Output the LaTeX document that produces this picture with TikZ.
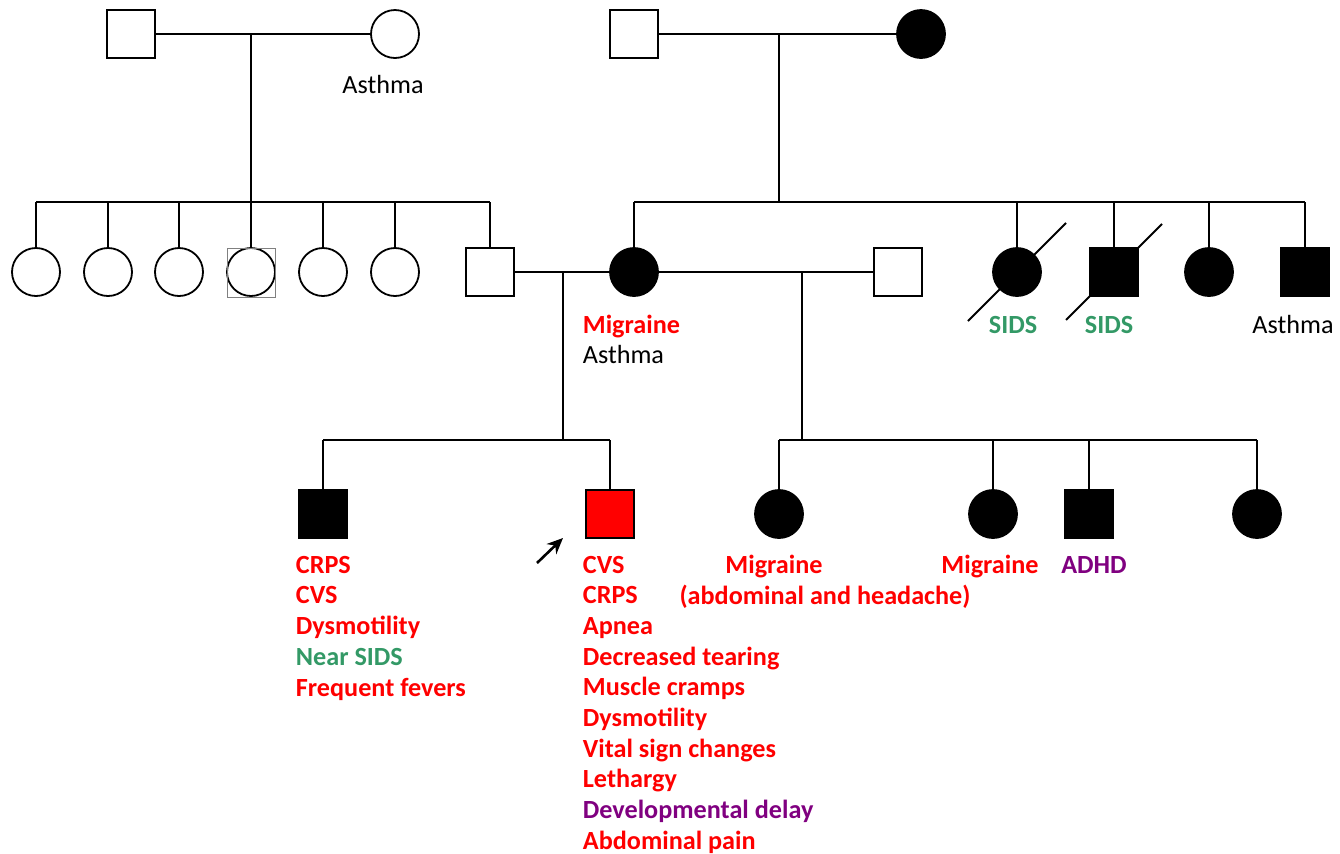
\documentclass[tikz,border=0pt]{standalone}
\usepackage{fontspec}
\setmainfont{Carlito}
\usepackage{xcolor}
\usetikzlibrary{arrows.meta}
\definecolor{PedRed}{RGB}{255,0,0}
\definecolor{PedGreen}{RGB}{51,153,102}
\definecolor{PedPurple}{RGB}{128,0,128}

\begin{document}
\begin{tikzpicture}[x=0.5pt, y=-0.5pt, line width=0.9pt,
    male/.style={draw, rectangle, minimum size=24pt, inner sep=0pt},
    female/.style={draw, circle, minimum size=24pt, inner sep=0pt},
    affected/.style={fill=black},
    lbl/.style={inner sep=0pt, font=\fontsize{13.1}{15}\selectfont\bfseries},
    plain/.style={inner sep=0pt, font=\fontsize{13.1}{15}\selectfont}]
    \useasboundingbox (0,0) rectangle (1340,853);

    % grandparents
    \node (GrandpaL) [male] at (131,34) {};
    \node (GrandmaL) [female] at (395,34) {};
    \node (GrandpaR) [male] at (634,34) {};
    \node (GrandmaR) [female, affected] at (921,34) {};
    \node (GrandmaLAsthma) [plain, anchor=base] at (383,93) {Asthma};

    \coordinate (MarriageL) at (251,34);
    \coordinate (SibsL) at (251,202);
    \coordinate (MarriageR) at (779,34);
    \coordinate (SibsR) at (779,202);
    \draw (GrandpaL) -- (GrandmaL);
    \draw (GrandpaR) -- (GrandmaR);
    \draw (MarriageL) -- (SibsL);
    \draw (MarriageR) -- (SibsR);

    % father's side
    \foreach \x [count=\i] in {36,108,179,251,323,395}
        \node (Aunt\i) [female] at (\x,272) {};
    \node (Father) [male] at (490,272) {};
    \draw[gray, line width=0.4pt] (227,248) rectangle (275,297);
    \draw (Aunt1 |- SibsL) -- (Father |- SibsL);
    \foreach \n in {Aunt1,Aunt2,Aunt3,Aunt4,Aunt5,Aunt6,Father}
        \draw (\n.north) -- (\n |- SibsL);

    % mother's side
    \node (Mother) [female, affected] at (634,272) {};
    \node (Stepfather) [male] at (898,272) {};
    \node (AuntSids) [female, affected] at (1017,272) {};
    \node (UncleSids) [male, affected] at (1114,272) {};
    \node (AuntR) [female, affected] at (1209,272) {};
    \node (UncleR) [male, affected] at (1305,272) {};
    \draw (Mother |- SibsR) -- (UncleR |- SibsR);
    \foreach \n in {Mother,AuntSids,UncleSids,AuntR,UncleR}
        \draw (\n.north) -- (\n |- SibsR);
    \draw ([shift={(-49,49)}]AuntSids.center) -- ([shift={(49,-49)}]AuntSids.center);
    \draw ([shift={(-48,48)}]UncleSids.center) -- ([shift={(48,-48)}]UncleSids.center);

    \node (MotherMig) [lbl, text=PedRed, anchor=base west] at (582,333) {Migraine};
    \node (MotherAsthma) [plain, anchor=base west] at (582,363) {Asthma};
    \node (AuntSidsTxt) [lbl, text=PedGreen, anchor=base] at (1013,333) {SIDS};
    \node (UncleSidsTxt) [lbl, text=PedGreen, anchor=base] at (1109,333) {SIDS};
    \node (UncleRTxt) [plain, anchor=base] at (1293,333) {Asthma};

    % parents and children
    \coordinate (MarriageP) at (563,272);
    \coordinate (SibsP) at (563,440);
    \coordinate (MarriageS) at (802,272);
    \coordinate (SibsS) at (802,440);
    \draw (Father) -- (Mother);
    \draw (Mother) -- (Stepfather);
    \draw (MarriageP) -- (SibsP);
    \draw (MarriageS) -- (SibsS);

    \node (Brother) [male, affected] at (323,514) {};
    \node (Proband) [male, fill=PedRed] at (610,514) {};
    \node (HalfSis1) [female, affected] at (779,514) {};
    \node (HalfSis2) [female, affected] at (993,514) {};
    \node (HalfBro) [male, affected] at (1089,514) {};
    \node (HalfSis3) [female, affected] at (1257,514) {};
    \draw (Brother |- SibsP) -- (Proband |- SibsP);
    \draw (HalfSis1 |- SibsS) -- (HalfSis3 |- SibsS);
    \foreach \n in {Brother,Proband}
        \draw (\n.north) -- (\n |- SibsP);
    \foreach \n in {HalfSis1,HalfSis2,HalfBro,HalfSis3}
        \draw (\n.north) -- (\n |- SibsS);

    % proband arrow
    \coordinate (ArrowTail) at (537,563);
    \coordinate (ArrowHead) at (563,538);
    \draw[line width=1.3pt, -{Stealth[length=8pt, width=7pt]}] (ArrowTail) -- (ArrowHead);

    % symptoms
    \foreach \txt/\col [count=\i] in {CRPS/PedRed, CVS/PedRed, Dysmotility/PedRed,
        Near SIDS/PedGreen, Frequent fevers/PedRed}
        \node (BroTxt\i) [lbl, text=\col, anchor=base west] at (295,573+30.75*\i-30.75) {\txt};
    \foreach \txt/\col [count=\i] in {CVS/PedRed, CRPS/PedRed, Apnea/PedRed,
        Decreased tearing/PedRed, Muscle cramps/PedRed, Dysmotility/PedRed,
        Vital sign changes/PedRed, Lethargy/PedRed, Developmental delay/PedPurple,
        Abdominal pain/PedRed}
        \node (ProbTxt\i) [lbl, text=\col, anchor=base west] at (582,573+30.7*\i-30.7) {\txt};
    \node (HalfSis1Mig) [lbl, text=PedRed, anchor=base] at (774,573) {Migraine};
    \node (HalfSis1Kind) [lbl, text=PedRed, anchor=base] at (825,604) {(abdominal and headache)};
    \node (HalfSis2Mig) [lbl, text=PedRed, anchor=base] at (990,573) {Migraine};
    \node (HalfBroTxt) [lbl, text=PedPurple, anchor=base] at (1094,573) {ADHD};
\end{tikzpicture}
\end{document}
